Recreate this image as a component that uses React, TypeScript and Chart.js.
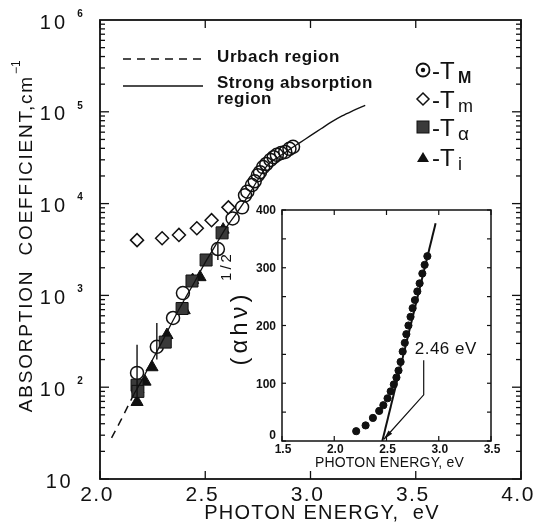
import React, { useEffect, useRef } from "react";
import { Chart, registerables } from "chart.js";

Chart.register(...registerables);

// ---------- main chart data ----------
const MAIN_X_TICKS = [2.0, 2.5, 3.0, 3.5, 4.0];
const MAIN_X_LABELS = ["2.0", "2.5", "3.0", "3.5", "4.0"];
const MAIN_Y_EXPONENTS = [1, 2, 3, 4, 5, 6];

const urbachEnergy = [2.055, 2.1, 2.16];
const urbachAlpha = [28, 44, 83];

const strongEnergy = [2.16, 2.2, 2.25, 2.3, 2.35, 2.4, 2.45, 2.5, 2.55, 2.6, 2.65, 2.7, 2.75, 2.8, 2.85, 2.9, 2.95, 3.0, 3.05, 3.1, 3.15, 3.2, 3.26];
const strongAlpha = [83, 120, 200, 330, 550, 890, 1410, 2290, 3550, 5500, 7940, 11750, 18200, 26900, 32400, 38900, 46200, 55000, 65300, 77600, 90200, 102300, 117500];

const tmaxEnergy = [2.176, 2.27, 2.347, 2.394, 2.56, 2.63, 2.675, 2.689, 2.70, 2.722, 2.735, 2.75, 2.76, 2.775, 2.79, 2.81, 2.825, 2.84, 2.86, 2.88, 2.90, 2.917];
const tmaxAlpha = [143, 275, 568, 1060, 3200, 6900, 9100, 12300, 13500, 15900, 17500, 20400, 22000, 25000, 27000, 29900, 32000, 34000, 35500, 36500, 39500, 41500];

const tminEnergy = [2.176, 2.295, 2.375, 2.46, 2.53, 2.61];
const tminAlpha = [4000, 4200, 4560, 5380, 6600, 9100];

const talphaEnergy = [2.176, 2.18, 2.31, 2.39, 2.437, 2.504, 2.58];
const talphaAlpha = [105, 90, 310, 720, 1435, 2430, 4800];

const tiEnergy = [2.176, 2.18, 2.214, 2.247, 2.318, 2.40, 2.44, 2.475, 2.585];
const tiAlpha = [69, 95, 115, 165, 370, 690, 1470, 1580, 5200];

const errEnergy = [2.176, 2.27, 2.56];
const errLow = [75, 200, 2430];
const errHigh = [290, 500, 3700];

// ---------- inset data ----------
const INSET_X_TICKS = [1.5, 2.0, 2.5, 3.0, 3.5];
const INSET_X_LABELS = ["1.5", "2.0", "2.5", "3.0", "3.5"];
const INSET_Y_TICKS = [0, 100, 200, 300, 400];

const insetEnergy = [2.21, 2.30, 2.37, 2.43, 2.47, 2.51, 2.54, 2.57, 2.595, 2.615, 2.635, 2.655, 2.675, 2.69, 2.71, 2.73, 2.75, 2.772, 2.795, 2.817, 2.843, 2.865, 2.891];
const insetValue = [17, 27, 40, 52, 62, 74, 86, 98, 110, 122, 137, 155, 170, 185, 200, 215, 230, 244, 259, 273, 290, 305, 320];

const fitEnergy = [2.46, 2.97];
const fitValue = [0, 377];

const GAP_LABEL = "2.46 eV";

const pts = (xs: number[], ys: number[]) => xs.map((x, i) => ({ x, y: ys[i] }));

const FONT = "'Liberation Sans', Arial, Helvetica, sans-serif";
const INK = "#111";

function text(ctx: CanvasRenderingContext2D, s: string, x: number, y: number, font: string, align: CanvasTextAlign = "center", baseline: CanvasTextBaseline = "middle", spacing = 0) {
  ctx.save();
  ctx.font = font;
  ctx.textAlign = align;
  ctx.textBaseline = baseline;
  (ctx as any).letterSpacing = spacing + "px";
  ctx.fillStyle = INK;
  ctx.fillText(s, x, y);
  ctx.restore();
}

function seg(ctx: CanvasRenderingContext2D, x1: number, y1: number, x2: number, y2: number) {
  ctx.beginPath();
  ctx.moveTo(x1, y1);
  ctx.lineTo(x2, y2);
  ctx.stroke();
}

const mainDecor = {
  id: "mainDecor",
  afterDraw(chart: any) {
    const ctx: CanvasRenderingContext2D = chart.ctx;
    const a = chart.chartArea;
    const xs = chart.scales.x;
    const ys = chart.scales.y;
    ctx.save();
    ctx.strokeStyle = INK;
    ctx.lineWidth = 1.8;
    ctx.strokeRect(a.left, a.top, a.right - a.left, a.bottom - a.top);
    ctx.lineWidth = 1.3;
    for (let e = 1; e <= 5; e++) {
      for (let m = 1; m <= 9; m++) {
        const py = ys.getPixelForValue(m * Math.pow(10, e));
        const L = m === 1 ? 9 : 5;
        seg(ctx, a.left, py, a.left + L, py);
        seg(ctx, a.right, py, a.right - L, py);
      }
    }
    for (const t of MAIN_X_TICKS) {
      const px = xs.getPixelForValue(t);
      seg(ctx, px, a.bottom, px, a.bottom - 8);
      seg(ctx, px, a.top, px, a.top + 8);
    }
    // y tick labels
    for (const e of MAIN_Y_EXPONENTS) {
      const py = ys.getPixelForValue(Math.pow(10, e));
      if (e === 1) {
        text(ctx, "10", 73, py + 3, `20px ${FONT}`, "right", "middle", 2.5);
      } else {
        text(ctx, "10", 68, py + 3, `20px ${FONT}`, "right", "middle", 3);
        text(ctx, String(e), 80, py - 6, `bold 10px ${FONT}`, "center", "middle");
      }
    }
    // x tick labels
    MAIN_X_TICKS.forEach((t, i) => {
      const px = xs.getPixelForValue(t);
      text(ctx, MAIN_X_LABELS[i], px - 3, 495, `21px ${FONT}`, "center", "middle", 1.5);
    });
    text(ctx, "PHOTON ENERGY,  eV", 322, 513, `20px ${FONT}`, "center", "middle", 1.2);
    // y title
    ctx.save();
    ctx.translate(27, 235);
    ctx.rotate(-Math.PI / 2);
    ctx.font = `19px ${FONT}`;
    (ctx as any).letterSpacing = "1.8px";
    const main = "ABSORPTION  COEFFICIENT,cm";
    const w = ctx.measureText(main).width;
    ctx.font = `12px ${FONT}`;
    const ws = ctx.measureText("−1").width;
    const start = -(w + ws) / 2;
    ctx.fillStyle = INK;
    ctx.textBaseline = "middle";
    ctx.textAlign = "left";
    ctx.font = `19px ${FONT}`;
    ctx.fillText(main, start, 0);
    ctx.font = `12px ${FONT}`;
    (ctx as any).letterSpacing = "0px";
    ctx.fillText("−1", start + w + 1, -10);
    ctx.restore();

    // line legend
    ctx.lineWidth = 1.5;
    ctx.setLineDash([8, 6]);
    seg(ctx, 123, 59, 203, 59);
    ctx.setLineDash([]);
    ctx.lineWidth = 1.3;
    seg(ctx, 123, 86, 203, 86);
    text(ctx, "Urbach region", 217, 62, `bold 17px ${FONT}`, "left", "alphabetic", 0.6);
    text(ctx, "Strong absorption", 217, 88, `bold 17px ${FONT}`, "left", "alphabetic", 0.5);
    text(ctx, "region", 217, 104, `bold 17px ${FONT}`, "left", "alphabetic", 0.5);

    // marker legend
    const rows = [70, 99, 127, 157];
    const mx = 423;
    ctx.lineWidth = 1.8;
    ctx.beginPath();
    ctx.arc(mx, rows[0], 6.5, 0, Math.PI * 2);
    ctx.stroke();
    ctx.fillStyle = INK;
    ctx.beginPath();
    ctx.arc(mx, rows[0], 2.2, 0, Math.PI * 2);
    ctx.fill();
    ctx.lineWidth = 1.5;
    ctx.beginPath();
    ctx.moveTo(mx, rows[1] - 6);
    ctx.lineTo(mx + 6, rows[1]);
    ctx.lineTo(mx, rows[1] + 6);
    ctx.lineTo(mx - 6, rows[1]);
    ctx.closePath();
    ctx.stroke();
    ctx.fillStyle = "#3a3a3a";
    ctx.fillRect(mx - 6, rows[2] - 6, 12, 12);
    ctx.lineWidth = 1;
    ctx.strokeRect(mx - 6, rows[2] - 6, 12, 12);
    ctx.fillStyle = INK;
    ctx.beginPath();
    ctx.moveTo(mx, rows[3] - 5);
    ctx.lineTo(mx + 6, rows[3] + 5);
    ctx.lineTo(mx - 6, rows[3] + 5);
    ctx.closePath();
    ctx.fill();
    const subs = ["M", "m", "α", "i"];
    const subFonts = [`bold 16px ${FONT}`, `18px ${FONT}`, `19px ${FONT}`, `18px ${FONT}`];
    rows.forEach((ry, i) => {
      text(ctx, "-T", 432, ry + 9, `24px ${FONT}`, "left", "alphabetic");
      text(ctx, subs[i], 458, ry + 13, subFonts[i], "left", "alphabetic");
    });
    ctx.restore();
  },
};

const insetDecor = {
  id: "insetDecor",
  afterDraw(chart: any) {
    const ctx: CanvasRenderingContext2D = chart.ctx;
    const a = chart.chartArea;
    const xs = chart.scales.x;
    const ys = chart.scales.y;
    ctx.save();
    ctx.strokeStyle = INK;
    ctx.lineWidth = 1.5;
    ctx.strokeRect(a.left, a.top, a.right - a.left, a.bottom - a.top);
    ctx.lineWidth = 1.2;
    for (let v = 0; v <= 400; v += 50) {
      const py = ys.getPixelForValue(v);
      seg(ctx, a.left, py, a.left + 4, py);
      seg(ctx, a.right, py, a.right - 4, py);
    }
    for (const t of INSET_X_TICKS) {
      const px = xs.getPixelForValue(t);
      seg(ctx, px, a.bottom, px, a.bottom - 5);
      seg(ctx, px, a.top, px, a.top + 5);
    }
    INSET_Y_TICKS.forEach((v) => {
      const py = ys.getPixelForValue(v);
      text(ctx, String(v), a.left - 6, v === 0 ? py - 5 : py + 1, `bold 12px ${FONT}`, "right", "middle");
    });
    INSET_X_TICKS.forEach((t, i) => {
      const px = xs.getPixelForValue(t);
      text(ctx, INSET_X_LABELS[i], px + 1, a.bottom + 9, `bold 12px ${FONT}`, "center", "middle");
    });
    text(ctx, "PHOTON ENERGY, eV", (a.left + a.right) / 2 + 3, a.bottom + 22, `14px ${FONT}`, "center", "middle", 0.2);
    // y title (αhν)^1/2
    ctx.save();
    ctx.translate(a.left - 42, 328 - 195);
    ctx.rotate(-Math.PI / 2);
    ctx.fillStyle = INK;
    ctx.textAlign = "center";
    ctx.textBaseline = "middle";
    ctx.font = `24px ${FONT}`;
    (ctx as any).letterSpacing = "4px";
    ctx.fillText("(αhν)", 0, 0);
    ctx.font = `15px ${FONT}`;
    (ctx as any).letterSpacing = "3px";
    ctx.fillText("1/2", 62, -13);
    ctx.restore();
    // annotation
    const lx = xs.getPixelForValue(3.067);
    const ly = ys.getPixelForValue(158);
    text(ctx, GAP_LABEL, lx, ly, `17px ${FONT}`, "center", "middle", 0.5);
    const vx = xs.getPixelForValue(2.856);
    const vTop = ys.getPixelForValue(140);
    const vBot = ys.getPixelForValue(80);
    const tipX = xs.getPixelForValue(2.475);
    const tipY = ys.getPixelForValue(3);
    ctx.lineWidth = 1.2;
    ctx.beginPath();
    ctx.moveTo(vx, vTop);
    ctx.lineTo(vx, vBot);
    ctx.lineTo(tipX, tipY);
    ctx.stroke();
    const ang = Math.atan2(tipY - vBot, tipX - vx);
    ctx.fillStyle = INK;
    ctx.beginPath();
    ctx.moveTo(tipX, tipY);
    ctx.lineTo(tipX - 10 * Math.cos(ang - 0.25), tipY - 10 * Math.sin(ang - 0.25));
    ctx.lineTo(tipX - 10 * Math.cos(ang + 0.25), tipY - 10 * Math.sin(ang + 0.25));
    ctx.closePath();
    ctx.fill();
    ctx.restore();
  },
};

export default function App() {
  const mainRef = useRef<HTMLCanvasElement>(null);
  const insetRef = useRef<HTMLCanvasElement>(null);

  useEffect(() => {
    const errorSets = errEnergy.map((e, i) => ({
      type: "line" as const,
      data: [{ x: e, y: errLow[i] }, { x: e, y: errHigh[i] }],
      borderColor: INK,
      borderWidth: 1.4,
      pointRadius: 0,
      fill: false,
    }));
    const main = new Chart(mainRef.current!, {
      type: "scatter",
      data: {
        datasets: [
          {
            type: "line",
            data: pts(urbachEnergy, urbachAlpha),
            borderColor: INK,
            borderWidth: 1.5,
            borderDash: [8, 6],
            pointRadius: 0,
            fill: false,
          } as any,
          {
            type: "line",
            data: pts(strongEnergy, strongAlpha),
            borderColor: INK,
            borderWidth: 1.3,
            pointRadius: 0,
            cubicInterpolationMode: "monotone",
            fill: false,
          } as any,
          ...errorSets,
          {
            data: pts(talphaEnergy, talphaAlpha),
            pointStyle: "rect",
            pointRadius: 8.5,
            backgroundColor: "#3a3a3a",
            borderColor: INK,
            borderWidth: 1,
          },
          {
            data: pts(tiEnergy, tiAlpha),
            pointStyle: "triangle",
            pointRadius: 7,
            backgroundColor: INK,
            borderColor: INK,
            borderWidth: 1,
          },
          {
            data: pts(tminEnergy, tminAlpha),
            pointStyle: "rectRot",
            pointRadius: 6.5,
            backgroundColor: "#fff",
            borderColor: INK,
            borderWidth: 1.5,
          },
          {
            data: pts(tmaxEnergy, tmaxAlpha),
            pointStyle: "circle",
            pointRadius: 6.5,
            backgroundColor: "rgba(255,255,255,0)",
            borderColor: INK,
            borderWidth: 1.5,
          },
        ],
      },
      options: {
        responsive: false,
        animation: false,
        events: [],
        layout: { padding: { left: 100, top: 20, right: 14, bottom: 53 } },
        plugins: { legend: { display: false }, tooltip: { enabled: false } },
        scales: {
          x: { type: "linear", min: 2, max: 4, display: false },
          y: { type: "logarithmic", min: 10, max: 1e6, display: false },
        },
      },
      plugins: [mainDecor],
    });

    const inset = new Chart(insetRef.current!, {
      type: "scatter",
      data: {
        datasets: [
          {
            type: "line",
            data: pts(fitEnergy, fitValue),
            borderColor: INK,
            borderWidth: 2,
            pointRadius: 0,
            fill: false,
          } as any,
          {
            data: pts(insetEnergy, insetValue),
            pointStyle: "circle",
            pointRadius: 3.6,
            backgroundColor: INK,
            borderColor: INK,
            borderWidth: 1,
          },
        ],
      },
      options: {
        responsive: false,
        animation: false,
        events: [],
        layout: { padding: { left: 72, top: 15, right: 24, bottom: 39 } },
        plugins: { legend: { display: false }, tooltip: { enabled: false } },
        scales: {
          x: { type: "linear", min: 1.5, max: 3.5, display: false },
          y: { type: "linear", min: 0, max: 400, display: false },
        },
      },
      plugins: [insetDecor],
    });

    return () => {
      main.destroy();
      inset.destroy();
    };
  }, []);

  return (
    <div style={{ position: "absolute", left: 0, top: 0, width: 535, height: 532, background: "#fff" }}>
      <canvas ref={mainRef} width={535} height={532} style={{ position: "absolute", left: 0, top: 0, width: 535, height: 532 }} />
      <canvas ref={insetRef} width={305} height={285} style={{ position: "absolute", left: 210, top: 195, width: 305, height: 285 }} />
    </div>
  );
}
